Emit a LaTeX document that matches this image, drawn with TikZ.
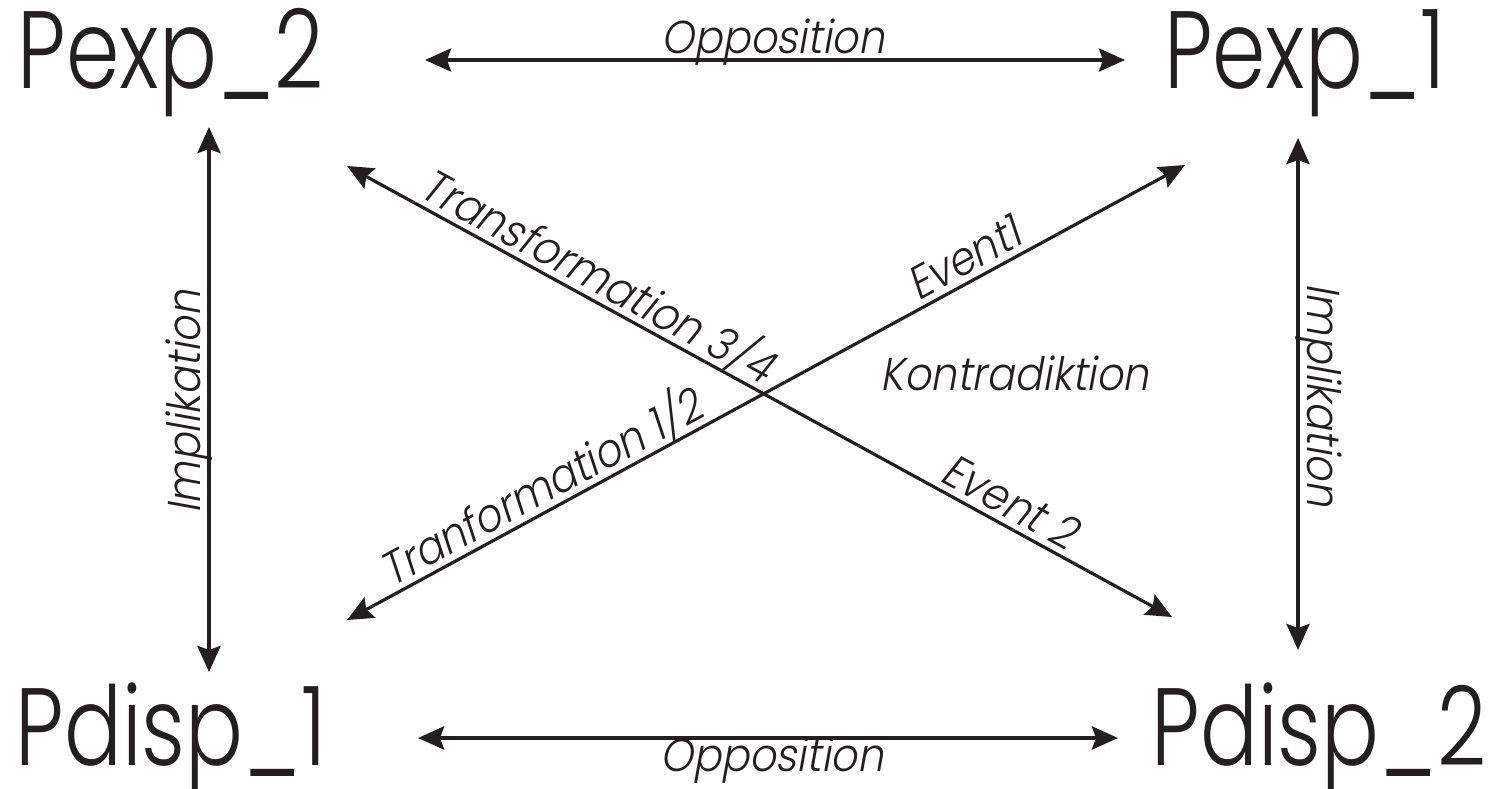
\documentclass[tikz,border=0pt]{standalone}
\usepackage{fontspec}
\setmainfont{Poppins}
\newfontfamily\bigf[FakeStretch=0.78]{Poppins Light}
\newfontfamily\itf[FakeSlant=0.18,FakeStretch=0.9]{Poppins Light}
\usetikzlibrary{arrows.meta}
\definecolor{ink}{RGB}{35,31,32}
\begin{document}
\begin{tikzpicture}[x=1pt,y=-1pt,
  bigtxt/.style={font=\bigf\fontsize{110}{110}\selectfont, text=ink, inner sep=0pt, anchor=base},
  lab/.style={font=\itf\fontsize{46}{46}\selectfont, text=ink, inner sep=0pt},
  sl/.style={lab, sloped, text depth=0pt, inner ysep=6pt, anchor=south},
  arr/.style={draw=ink, line width=4pt, {Stealth[length=26pt,width=23pt,inset=4pt]}-{Stealth[length=26pt,width=23pt,inset=4pt]}},
  darr/.style={arr, line width=3.2pt}]
\useasboundingbox (0,0) rectangle (1490,788);
\fill[white] (0,0) rectangle (1490,788);
% big labels
\node[bigtxt] (pexp2) at (171,88) {Pexp\_2};
\node[bigtxt] (pexp1) at (1305,88) {Pexp\_1};
\node[bigtxt] (pdisp1) at (171,765) {Pdisp\_1};
\node[bigtxt] (pdisp2) at (1319,765) {Pdisp\_2};
% connector end points
\coordinate (t1) at (425,60);   \coordinate (t2) at (1125,60);
\coordinate (b1) at (418,738);  \coordinate (b2) at (1118,738);
\coordinate (l1) at (209,127);  \coordinate (l2) at (209,672);
\coordinate (r1) at (1298,138); \coordinate (r2) at (1298,650);
\coordinate (d1a) at (347,166); \coordinate (d1b) at (1172,617);
\coordinate (d2a) at (347,620); \coordinate (d2b) at (1185,165);
% connectors
\draw[arr] (t1) -- (t2);
\draw[arr] (b1) -- (b2);
\draw[arr] (l1) -- (l2);
\draw[arr] (r1) -- (r2);
\draw[darr] (d1a) -- node[sl, pos=0.29] (lt34) {Transformation 3/4}
                      node[sl, pos=0.79] (lev2) {Event 2} (d1b);
\draw[darr] (d2a) -- node[sl, pos=0.245] (lt12) {Tranformation 1/2}
                      node[sl, pos=0.75] (lev1) {Event1} (d2b);
% labels
\node[lab, anchor=base] (optop) at (773,53) {Opposition};
\node[lab, anchor=base] (opbot) at (772,771) {Opposition};
\node[lab, anchor=base, rotate=90] (impl) at (200,402) {Implikation};
\node[lab, anchor=base, rotate=-90] (impr) at (1307,395) {Implikation};
\node[lab, anchor=base] (kontra) at (1015,390) {Kontradiktion};
\end{tikzpicture}
\end{document}
